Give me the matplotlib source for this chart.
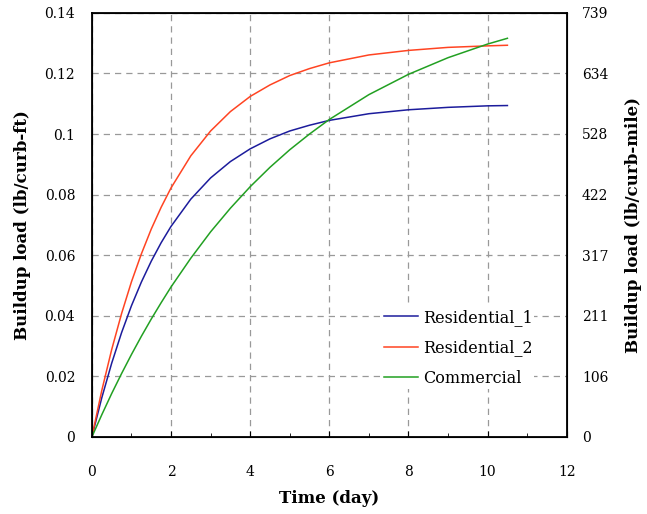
import matplotlib
matplotlib.use("Agg")
import matplotlib.pyplot as plt
from matplotlib.ticker import MultipleLocator

# time (day) and buildup load (lb/curb-ft)
time_day = [0, 0.25, 0.5, 0.75, 1, 1.25, 1.5, 1.75, 2, 2.5, 3, 3.5, 4, 4.5, 5, 5.5, 6,
            7, 8, 9, 10, 10.5]
residential_1 = [0, 0.0129, 0.0243, 0.0344, 0.0433, 0.0511, 0.0580, 0.0641, 0.0695,
                 0.0785, 0.0855, 0.0909, 0.0951, 0.0984, 0.1010, 0.1029, 0.1045,
                 0.1067, 0.1080, 0.1088, 0.1093, 0.1094]
residential_2 = [0, 0.0153, 0.0288, 0.0407, 0.0512, 0.0604, 0.0686, 0.0758, 0.0822,
                 0.0928, 0.1010, 0.1074, 0.1124, 0.1162, 0.1193, 0.1216, 0.1235,
                 0.1261, 0.1276, 0.1286, 0.1291, 0.1293]
commercial = [0, 0.0073, 0.0143, 0.0209, 0.0272, 0.0332, 0.0389, 0.0443, 0.0495,
              0.0590, 0.0677, 0.0755, 0.0826, 0.0890, 0.0948, 0.1000, 0.1048,
              0.1130, 0.1197, 0.1252, 0.1297, 0.1316]

left_ticks = [0, 0.02, 0.04, 0.06, 0.08, 0.1, 0.12, 0.14]
left_labels = ["0", "0.02", "0.04", "0.06", "0.08", "0.1", "0.12", "0.14"]
right_ticks = [0, 106, 211, 317, 422, 528, 634, 739]

plt.rcParams['font.family'] = ['DejaVu Serif']

fig = plt.figure(figsize=(6.47, 5.14), dpi=100)
ax = fig.add_axes([0.142, 0.150, 0.734, 0.825])

lw = 1.1
ax.plot(time_day, residential_1, color="#1c1c9c", linewidth=lw, label="Residential_1")
ax.plot(time_day, residential_2, color="#ff4422", linewidth=lw, label="Residential_2")
ax.plot(time_day, commercial, color="#22a022", linewidth=lw, label="Commercial")

ax.set_xlim(0, 12)
ax.set_ylim(0, 0.14)
ax.set_xticks(range(0, 13, 2))
ax.xaxis.set_minor_locator(MultipleLocator(1))
ax.set_yticks(left_ticks)
ax.set_yticklabels(left_labels)
ax.grid(True, color="#999999", linestyle=(0, (5, 4)), linewidth=0.9)
ax.tick_params(axis="x", direction="in", length=4, labelsize=10, pad=20)
ax.tick_params(axis="y", direction="in", length=0, labelsize=10, pad=12)
ax.tick_params(which="minor", direction="in", length=3)
for s in ax.spines.values():
    s.set_linewidth(1.3)

ax.set_xlabel("Time (day)", fontsize=12, fontweight="bold", labelpad=8)
ax.set_ylabel("Buildup load (lb/curb-ft)", fontsize=12, fontweight="bold", labelpad=10)

ax2 = ax.twinx()
ax2.set_ylim(0, 739)
ax2.set_yticks(right_ticks)
ax2.tick_params(direction="in", length=0, labelsize=10, pad=11)
ax2.set_ylabel("Buildup load (lb/curb-mile)", fontsize=12, fontweight="bold", labelpad=12)

leg = ax.legend(loc="lower right", bbox_to_anchor=(0.948, 0.095), frameon=True,
                fontsize=11.5, handlelength=2.1, handletextpad=0.3, labelspacing=0.85,
                borderpad=0.1, fancybox=False)
leg.get_frame().set_edgecolor("none")
leg.get_frame().set_facecolor("white")
leg.get_frame().set_alpha(1)

fig.savefig("out.png", dpi=100)
